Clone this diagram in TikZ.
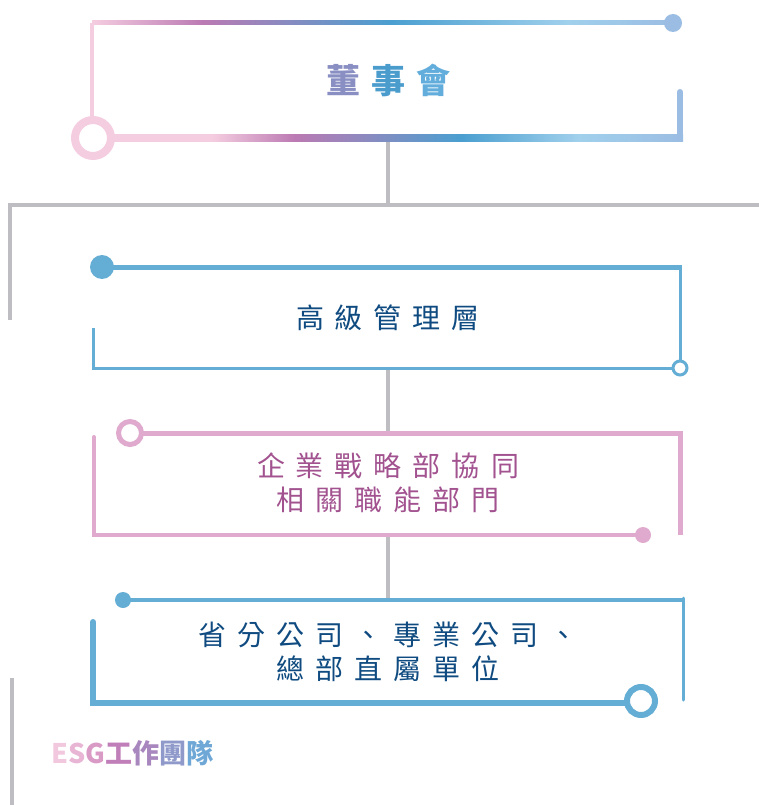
\documentclass[tikz,border=0pt]{standalone}
\usepackage{fontspec}
\setmainfont{Noto Sans CJK TC}
\definecolor{esgpink}{HTML}{F5CDE0}
\definecolor{esgmauve}{HTML}{BB7AB3}
\definecolor{esgblue}{HTML}{4A9FD0}
\definecolor{esgsky}{HTML}{A0D0EC}
\definecolor{esgend}{HTML}{9BBDE3}
\definecolor{esggray}{HTML}{BDBDC2}
\definecolor{mgmtblue}{HTML}{64ADD4}
\definecolor{deptpink}{HTML}{DFAACD}
\definecolor{deptink}{HTML}{A1528F}
\definecolor{navyink}{HTML}{0F4B80}
\pgfdeclarehorizontalshading{boardtop}{100bp}{color(0bp)=(esgpink); color(25bp)=(esgpink); color(34.5bp)=(esgmauve); color(50.7bp)=(esgblue); color(66bp)=(esgsky); color(75bp)=(esgend); color(100bp)=(esgend)}
\pgfdeclarehorizontalshading{boardbot}{100bp}{color(0bp)=(esgpink); color(34bp)=(esgpink); color(41.3bp)=(esgmauve); color(55.7bp)=(esgblue); color(65.9bp)=(esgsky); color(75bp)=(esgend); color(100bp)=(esgend)}
\newcommand\kg{\hspace{11pt}}
\begin{document}
\begin{tikzpicture}[x=1pt,y=-1pt,
  trunk/.style={esggray,line width=4.5pt},
  lbl/.style={font=\fontsize{28}{34}\selectfont,align=center,inner sep=0pt},
]
\useasboundingbox (0,0) rectangle (759,805);
% gray trunk
\coordinate (boardout) at (388,141);
\coordinate (split) at (388,205);
\coordinate (westend) at (10,205);
\coordinate (westfoot) at (10,320);
\coordinate (eastend) at (759,205);
\coordinate (mgmtout) at (388,369);
\coordinate (deptin) at (388,433);
\coordinate (deptout) at (388,535);
\coordinate (unitin) at (388,600);
\coordinate (teamtop) at (12,678);
\coordinate (teamfoot) at (12,805);
\draw[trunk] (boardout) -- (split);
\draw[trunk] (westfoot) -- (westend) -- (eastend);
\draw[trunk] (mgmtout) -- (deptin);
\draw[trunk] (deptout) -- (unitin);
\draw[trunk] (teamtop) -- (teamfoot);
% board
\draw[esgpink,line width=4pt] (92,23) -- (92,122);
\shade[shading=boardtop] (92,21) rectangle (673,25);
\fill[esgend] (673,23) circle (9);
\shade[shading=boardbot] (108,134.5) rectangle (683,141.5);
\draw[esgend,line width=6pt,line cap=round] (680,138) -- (680,92);
\draw[esgpink,line width=8pt,fill=white] (93,138) circle (18);
\node[lbl,font=\fontsize{34}{40}\selectfont\bfseries] (board) at (388,80)
  {\textcolor[HTML]{8A8FC3}{董}\kg\textcolor[HTML]{4A9CCD}{事}\kg\textcolor[HTML]{62ADDB}{會}};
% management
\draw[mgmtblue,line width=5pt] (102,267) -- (680,267);
\draw[mgmtblue,line width=3pt] (680,265) -- (680,368) -- (93,368) -- (93,328);
\fill[mgmtblue] (102,267) circle (12);
\draw[mgmtblue,line width=3pt,fill=white] (680,368) circle (7);
\node[lbl,text=navyink] (mgmt) at (388,318) {高\kg{}級\kg{}管\kg{}理\kg{}層};
% departments
\draw[deptpink,line width=5pt] (142,433) -- (680,433) -- (680,535);
\draw[deptpink,line width=4pt,line cap=round] (94,437) -- (94,535) -- (643,535);
\draw[deptpink,line width=5pt,fill=white] (130,433) circle (11.5);
\fill[deptpink] (643,535) circle (8);
\node[lbl,text=deptink] (dept) at (388,483)
  {企\kg{}業\kg{}戰\kg{}略\kg{}部\kg{}協\kg{}同\\相\kg{}關\kg{}職\kg{}能\kg{}部\kg{}門};
% units
\draw[mgmtblue,line width=4pt] (123,600) -- (683,600);
\draw[mgmtblue,line width=3pt,line cap=round] (683,598) -- (683,700);
\draw[mgmtblue,line width=6pt,line cap=round] (93,622) -- (93,703) -- (626,703);
\fill[mgmtblue] (123,600) circle (8);
\draw[mgmtblue,line width=6pt,fill=white] (641,701) circle (14);
\node[lbl,text=navyink] (unit) at (388,652)
  {省\kg{}分\kg{}公\kg{}司\kg{}、\kg{}專\kg{}業\kg{}公\kg{}司\kg{}、\\總\kg{}部\kg{}直\kg{}屬\kg{}單\kg{}位};
% team
\node[lbl,anchor=west,font=\fontsize{27}{32}\selectfont\bfseries] (team) at (51,753)
  {\textcolor[HTML]{F1C8DE}{E}\textcolor[HTML]{E8B5D4}{S}\textcolor[HTML]{D99BC6}{G}\textcolor[HTML]{C07FB8}{工}\textcolor[HTML]{A887BE}{作}\textcolor[HTML]{8F9ACB}{團}\textcolor[HTML]{6FA8D6}{隊}};
\end{tikzpicture}
\end{document}
